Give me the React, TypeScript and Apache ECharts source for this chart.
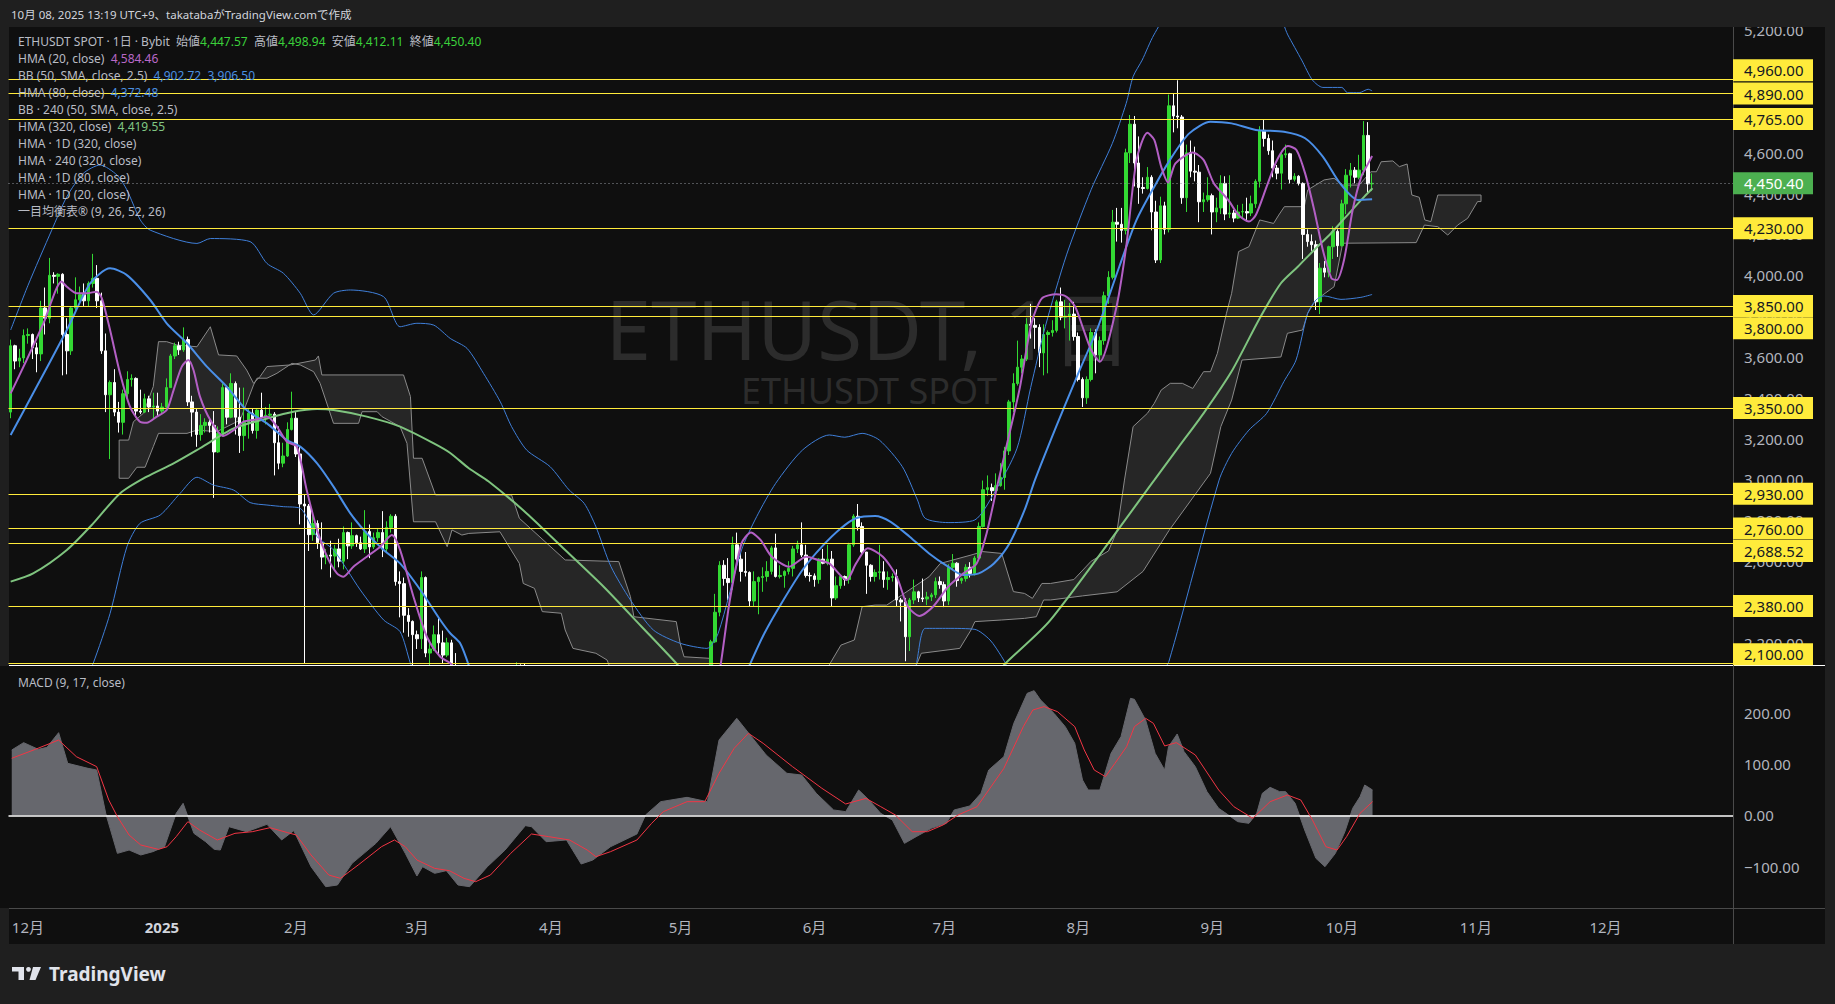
import React, { useEffect, useRef } from "react";
import * as echarts from "echarts";

const FONT = '"Noto Sans", "Noto Sans CJK JP", sans-serif';
const START_UTC = Date.UTC(2024, 10, 27);
const DAY_COUNT = 399;

// category dates (day 0 = 2024-11-27)
const categories: string[] = Array.from({ length: DAY_COUNT }, (_, i) => {
  const d = new Date(START_UTC + i * 86400000);
  return `${d.getUTCFullYear()}-${d.getUTCMonth() + 1}-${d.getUTCDate()}`;
});

// daily candles [open, close, low, high]
const candles: number[][] = [
  [3330,3655,3300,3685],[3655,3580,3540,3660],[3580,3595,3550,3640],[3595,3705,3570,3735],[3705,3710,3665,3740],
  [3710,3645,3590,3715],[3645,3615,3525,3670],[3615,3840,3580,3875],[3840,3790,3710,3940],[3790,4000,3765,4085],
  [4000,3995,3960,4015],[3995,4005,3910,4010],[4005,3710,3510,4010],[3710,3630,3515,3790],[3630,3840,3610,3850],
  [3840,3880,3830,3990],[3880,3905,3860,3945],[3905,3875,3850,3960],[3875,3960,3845,3970],[3960,3985,3940,4105],
  [3985,3875,3840,4050],[3875,3630,3615,3915],[3630,3415,3330,3715],[3415,3475,3100,3485],[3475,3330,3310,3540],
  [3330,3280,3230,3380],[3280,3420,3220,3440],[3420,3490,3400,3530],[3490,3495,3455,3515],[3495,3335,3305,3500],
  [3335,3330,3320,3440],[3330,3395,3325,3420],[3395,3355,3330,3410],[3355,3360,3300,3425],[3360,3335,3310,3425],
  [3335,3355,3320,3375],[3355,3450,3345,3495],[3450,3605,3450,3615],[3605,3655,3590,3670],[3655,3635,3610,3675],
  [3635,3685,3625,3745],[3685,3380,3360,3700],[3380,3330,3210,3410],[3330,3220,3160,3345],[3220,3265,3190,3320],
  [3265,3280,3230,3300],[3280,3265,3230,3305],[3265,3135,2910,3335],[3135,3225,3130,3260],[3225,3450,3210,3470],
  [3450,3305,3270,3460],[3305,3470,3300,3520],[3470,3305,3220,3480],[3305,3215,3130,3450],[3215,3280,3140,3450],
  [3280,3325,3200,3345],[3325,3240,3225,3345],[3240,3340,3200,3345],[3340,3305,3300,3425],[3305,3315,3270,3355],
  [3315,3320,3300,3370],[3320,3180,3020,3330],[3180,3080,3050,3260],[3080,3115,3060,3180],[3115,3245,3110,3280],
  [3245,3300,3240,3430],[3300,3125,3110,3330],[3125,2880,2780,3160],[2880,2870,2100,2925],[2870,2730,2650,2880],
  [2730,2785,2700,2830],[2785,2690,2660,2800],[2690,2620,2560,2790],[2620,2630,2585,2660],[2630,2625,2520,2700],
  [2625,2660,2560,2680],[2660,2600,2570,2710],[2600,2740,2560,2770],[2740,2675,2610,2745],[2675,2725,2660,2790],
  [2725,2690,2670,2730],[2690,2660,2655,2720],[2660,2745,2640,2850],[2745,2670,2615,2780],[2670,2715,2660,2740],
  [2715,2740,2695,2760],[2740,2660,2620,2845],[2660,2765,2640,2795],[2765,2820,2740,2830],[2820,2500,2480,2830],
  [2500,2490,2325,2550],[2490,2335,2250,2520],[2335,2305,2230,2370],[2305,2240,2075,2310],[2240,2220,2170,2260],
  [2220,2520,2170,2550],[2520,2150,2130,2525],[2150,2170,1990,2215],[2170,2240,2160,2285],[2240,2200,2140,2320],
  [2200,2140,2100,2260],[2140,2200,2130,2225],[2200,2020,2000,2215],[2020,1865,1815,2150],[1865,1920,1755,1960],
  [1920,1910,1830,1955],[1910,1865,1825,1920],[1865,1910,1860,1935],[1910,1935,1905,1945],[1935,1885,1860,1950],
  [1885,1925,1880,1955],[1925,1930,1885,1935],[1930,2055,1925,2065],[2055,1985,1970,2070],[1985,1965,1935,2000],
  [1965,1980,1960,1995],[1980,2005,1970,2010],[2005,2080,2000,2105],[2080,2070,2030,2095],[2070,2010,1995,2100],
  [2010,2005,1985,2035],[2005,1895,1880,2015],[1895,1830,1815,1905],[1830,1805,1770,1840],[1805,1820,1790,1850],
  [1820,1905,1815,1920],[1905,1800,1780,1950],[1800,1815,1760,1840],[1815,1812,1760,1830],[1812,1805,1780,1825],
  [1805,1580,1540,1815],[1580,1555,1410,1640],[1555,1475,1450,1620],[1475,1670,1385,1690],[1670,1525,1475,1675],
  [1525,1565,1500,1570],[1565,1645,1540,1655],[1645,1595,1570,1690],[1595,1625,1590,1690],[1625,1590,1585,1655],
  [1590,1575,1560,1620],[1575,1585,1565,1605],[1585,1590,1575,1600],[1590,1615,1580,1620],[1615,1590,1575,1640],
  [1590,1580,1575,1660],[1580,1755,1575,1775],[1755,1795,1745,1830],[1795,1770,1725,1810],[1770,1785,1750,1820],
  [1785,1820,1780,1830],[1820,1795,1790,1860],[1795,1800,1750,1830],[1800,1805,1790,1830],[1805,1795,1750,1830],
  [1795,1840,1790,1875],[1840,1845,1830,1870],[1845,1835,1825,1855],[1835,1810,1800,1850],[1810,1815,1780,1835],
  [1815,1812,1755,1830],[1812,1810,1795,1860],[1810,2205,1805,2215],[2205,2350,2200,2440],[2350,2580,2330,2600],
  [2580,2515,2480,2605],[2515,2495,2410,2615],[2495,2680,2460,2720],[2680,2610,2570,2740],[2610,2550,2500,2640],
  [2550,2545,2525,2645],[2545,2405,2380,2550],[2405,2500,2380,2550],[2500,2520,2340,2525],[2520,2525,2450,2570],
  [2525,2550,2500,2600],[2550,2665,2535,2675],[2665,2525,2520,2735],[2525,2530,2515,2580],[2530,2550,2470,2555],
  [2550,2565,2535,2600],[2565,2660,2525,2675],[2660,2680,2640,2700],[2680,2630,2620,2790],[2630,2530,2520,2680],
  [2530,2528,2500,2545],[2528,2510,2475,2540],[2510,2610,2490,2615],[2610,2590,2585,2660],[2590,2610,2580,2680],
  [2610,2420,2380,2650],[2420,2480,2410,2525],[2480,2525,2465,2530],[2525,2510,2480,2530],[2510,2680,2490,2690],
  [2680,2820,2670,2830],[2820,2770,2750,2880],[2770,2645,2630,2790],[2645,2580,2440,2645],[2580,2525,2500,2585],
  [2525,2545,2500,2560],[2545,2548,2510,2680],[2548,2510,2470,2600],[2510,2520,2460,2550],[2520,2525,2500,2540],
  [2525,2410,2380,2560],[2410,2400,2305,2420],[2400,2230,2110,2420],[2230,2410,2160,2420],[2410,2450,2390,2510],
  [2450,2420,2400,2455],[2420,2415,2400,2515],[2415,2425,2385,2450],[2425,2435,2405,2445],[2435,2500,2420,2520],
  [2500,2485,2465,2525],[2485,2405,2375,2500],[2405,2570,2385,2585],[2570,2590,2555,2635],[2590,2505,2475,2595],
  [2505,2515,2490,2520],[2515,2570,2500,2585],[2570,2540,2520,2595],[2540,2615,2530,2625],[2615,2770,2605,2790],
  [2770,2950,2765,2995],[2950,2960,2920,3020],[2960,2945,2895,2980],[2945,2970,2930,3030],[2970,3010,2965,3080],
  [3010,3140,2950,3160],[3140,3380,3120,3390],[3380,3470,3330,3520],[3470,3550,3460,3680],[3550,3590,3520,3610],
  [3590,3760,3580,3790],[3760,3755,3690,3860],[3755,3745,3640,3790],[3745,3620,3550,3760],[3620,3710,3510,3760],
  [3710,3720,3520,3730],[3720,3730,3700,3780],[3730,3870,3720,3880],[3870,3795,3780,3940],[3795,3800,3740,3880],
  [3800,3810,3680,3865],[3810,3700,3680,3870],[3700,3490,3480,3720],[3490,3400,3355,3500],[3400,3490,3370,3505],
  [3490,3720,3480,3740],[3720,3610,3520,3735],[3610,3680,3575,3700],[3680,3900,3660,3920],[3900,3990,3860,4020],
  [3990,4260,3980,4320],[4260,4250,4165,4330],[4250,4220,4160,4330],[4220,4600,4200,4620],[4600,4740,4550,4785],
  [4740,4550,4435,4780],[4550,4430,4350,4680],[4430,4425,4400,4480],[4425,4480,4420,4530],[4480,4310,4220,4490],
  [4310,4075,4060,4365],[4075,4340,4060,4385],[4340,4225,4200,4360],[4225,4830,4210,4885],[4830,4780,4700,4890],
  [4780,4775,4720,4955],[4775,4380,4350,4785],[4380,4600,4310,4640],[4600,4510,4480,4660],[4510,4505,4460,4630],
  [4505,4360,4260,4540],[4360,4370,4310,4405],[4370,4390,4360,4480],[4390,4310,4200,4400],[4310,4330,4260,4380],
  [4330,4450,4300,4490],[4450,4300,4270,4485],[4300,4305,4280,4490],[4305,4280,4260,4320],[4280,4310,4275,4345],
  [4310,4312,4280,4350],[4312,4305,4270,4380],[4305,4350,4290,4390],[4350,4460,4330,4470],[4460,4710,4430,4730],
  [4710,4670,4630,4765],[4670,4610,4590,4690],[4610,4525,4480,4660],[4525,4500,4470,4540],[4500,4590,4420,4610],
  [4590,4595,4575,4640],[4595,4470,4450,4600],[4470,4485,4460,4500],[4485,4450,4440,4490],[4450,4200,4080,4455],
  [4200,4165,4140,4225],[4165,4150,4120,4200],[4150,3870,3830,4170],[3870,4035,3810,4060],[4035,4015,3990,4070],
  [4015,4140,3990,4145],[4140,4215,4080,4240],[4215,4145,4090,4225],[4145,4350,4140,4370],[4350,4490,4300,4520],
  [4490,4515,4430,4550],[4515,4480,4450,4530],[4480,4515,4470,4590],[4515,4685,4490,4755],[4685,4447.57,4400,4750],
  [4447.57,4450.40,4412.11,4498.94],
];

// indicator lines: [day index, value]
const hma20: any[] = [[0,3422],[3.7,3585],[7.6,3765],[11.8,3969],[13,3944],[15.3,3912],[17.6,3912],[19.9,3920],[21.1,3887],[23,3732],[25.3,3520],[27.6,3357],[29.9,3283],[31.5,3278],[33.8,3308],[36.1,3340],[37.7,3438],[39.6,3553],[41.1,3585],[42.3,3536],[43.8,3406],[46.2,3291],[49.2,3213],[51.6,3242],[53.9,3283],[57,3295],[59.3,3308],[61.6,3259],[63.9,3185],[66.2,3161],[68.5,2948],[70.9,2753],[73.2,2622],[75.5,2540],[77,2524],[79.3,2573],[82.4,2622],[85.5,2671],[88.2,2728],[90.1,2655],[93.2,2426],[96.3,2230],[99.4,2132],[101.7,2100],[103,2070],[104,"-"],[163.5,2040],[164.2,2083],[166.4,2410],[169.1,2687],[171.3,2740],[173.5,2704],[176.1,2622],[180.1,2573],[184.1,2622],[186.8,2606],[189.4,2589],[193.4,2508],[195.6,2589],[198.3,2663],[201.8,2622],[205,2524],[207.6,2377],[210.3,2332],[213.4,2377],[216.9,2475],[220.4,2540],[223.5,2589],[225.8,2736],[228.4,2981],[231.1,3226],[233.5,3450],[236.2,3765],[238.6,3887],[241.9,3907],[244.3,3895],[246.3,3846],[248,3748],[250,3634],[252,3577],[255.7,3830],[258.1,4140],[260.5,4565],[263,4698],[264.6,4663],[266.2,4532],[267.8,4454],[269.5,4548],[273.5,4601],[276,4565],[278.4,4450],[281.7,4369],[284.1,4295],[286.5,4263],[288.1,4295],[290.6,4434],[293,4565],[295.5,4633],[297.5,4614],[299.5,4499],[301.6,4320],[303.6,4124],[305.6,3985],[306.8,3977],[308.5,4075],[310.5,4320],[312.5,4483],[314.1,4548],[315,4584]];
const hma80: any[] = [[0,3218],[5.2,3422],[13,3732],[18.4,3961],[23,4034],[26.9,4001],[32.3,3879],[36.1,3765],[40.8,3667],[45.4,3553],[50,3455],[54.6,3340],[59.3,3275],[63.9,3193],[67,3161],[70.9,3079],[74.7,2965],[78.6,2834],[82.4,2736],[86.3,2655],[90.1,2589],[94.8,2459],[99.4,2312],[101.7,2247],[104,2198],[106.1,2083],[107,"-"],[170.8,2083],[174.4,2247],[178.8,2410],[183.2,2557],[187.7,2671],[192.1,2761],[195.6,2810],[200,2821],[203.6,2793],[208,2720],[212.5,2638],[216.9,2573],[220.4,2532],[224,2540],[227.5,2589],[231.1,2687],[234.6,2851],[237,2998],[241.9,3259],[246.7,3504],[251.6,3748],[256.5,4042],[260.5,4271],[264.6,4434],[268.7,4581],[272.7,4695],[277.6,4752],[282.5,4744],[288.1,4712],[294.6,4703],[299.5,4671],[303.6,4581],[307.6,4450],[311.7,4369],[315,4372]];
const hma320: any[] = [[0,2500],[5.2,2540],[13,2655],[19.1,2785],[25.3,2932],[31.5,3014],[37.7,3079],[43.8,3153],[51.6,3250],[59.3,3299],[65.4,3332],[70.9,3345],[74.7,3340],[82.4,3308],[90.1,3259],[97.9,3177],[101.7,3130],[106,3055],[110.6,2990],[119.4,2834],[128.3,2655],[137.2,2475],[146,2279],[154,2100],[155,2070],[156,"-"],[229,2070],[230.2,2100],[240.6,2312],[264.6,2997],[270.3,3161],[276,3324],[282.5,3530],[289,3790],[293.9,3961],[297.8,4042],[301.6,4124],[305.5,4206],[309.3,4295],[313.2,4385],[315.1,4426]];
const bbUpper: any[] = [[0,3732],[4,3950],[9.5,4221],[13,4385],[16.8,4499],[20.7,4540],[24.6,4491],[26.9,4418],[30,4271],[32.3,4221],[43.1,4156],[46.2,4180],[55.4,4165],[59.3,4058],[63.1,4010],[67,3912],[70.1,3806],[74.7,3912],[78.6,3928],[86.3,3895],[90.1,3748],[94,3765],[97.9,3756],[101.7,3691],[105.6,3642],[109.4,3520],[113.3,3380],[115.9,3259],[119.4,3144],[124.8,3063],[129.2,2949],[132.7,2883],[135.4,2769],[138.9,2573],[143.4,2410],[148.7,2263],[154.9,2198],[161.1,2173],[163.7,2247],[169.1,2655],[172.6,2818],[177,2981],[183.2,3144],[189.4,3218],[193,3207],[197,3226],[201,3193],[206.3,3063],[209.8,2900],[211.6,2810],[216.9,2789],[223.1,2802],[227.5,2932],[232.8,3150],[236,3450],[239.4,3750],[244.3,4100],[250,4420],[254.9,4646],[258.1,4842],[259.7,4973],[261.8,5054],[264.5,5177],[268,5280],[280,5330],[293,5280],[295.5,5177],[298.7,5054],[301.2,4956],[303.6,4920],[308,4920],[309.3,4894],[312,4894],[314.1,4911],[315,4903]];
const bbLower: any[] = [[18,2060],[19.1,2100],[23,2344],[26.9,2671],[29.9,2785],[34.6,2826],[39.2,2932],[43.1,3011],[46.9,2973],[51.6,2948],[55.4,2887],[59.3,2875],[63.1,2867],[67,2859],[70.9,2720],[74.7,2655],[80.9,2459],[86.3,2312],[90.1,2255],[92.5,2100],[93.5,2060],[94,"-"],[208.5,2060],[209.4,2083],[211.6,2271],[216.9,2271],[223.1,2266],[226.6,2214],[229.3,2132],[230.6,2083],[231,2060],[232,"-"],[266.5,2060],[268,2110],[279.6,2997],[282.5,3128],[286.5,3242],[290.6,3324],[294.6,3480],[297.4,3585],[300.1,3814],[302,3879],[303.9,3899],[307.8,3882],[312.4,3892],[315,3906]];

// ichimoku cloud envelopes
const cloudUpper1: number[][] = [[25.1,3193],[27.3,3193],[28.4,3283],[30.7,3324],[33,3455],[34.2,3675],[36.1,3675],[38.4,3659],[43.1,3650],[46.2,3748],[48.1,3610],[52.3,3605],[54.6,3536],[56.2,3471],[57.7,3504],[59.3,3553],[64.7,3561],[70.5,3585],[71.2,3605],[72,3512],[90.9,3512],[92.5,3406],[93.2,3104],[95.2,3104],[98.3,2924],[115.9,2924],[117.7,2810],[128.3,2606],[140.7,2598],[143.4,2426],[144.2,2328],[154,2304],[154.9,2198],[155.8,2132],[161.9,2124],[163,2060]];
const cloudLower1: number[][] = [[25.1,3006],[27.3,3006],[29.2,3060],[31.1,3060],[33,3161],[34.2,3226],[40.8,3226],[43.1,3242],[47.7,3234],[53.1,3291],[56.2,3463],[57,3496],[59.3,3496],[61.6,3520],[65.1,3569],[67,3561],[70.1,3528],[71.6,3471],[74.7,3275],[80.5,3275],[81.3,3332],[84.8,3332],[85.9,3308],[90.1,3259],[91.7,3177],[93.2,2793],[98.3,2793],[101,2671],[102.1,2753],[104.4,2728],[106,2736],[113.2,2744],[117.7,2589],[118.6,2491],[121.2,2467],[123,2353],[127.4,2345],[128.3,2263],[130.1,2173],[135.4,2149],[138,2116],[139,2060],[163,2060]];
const cloudUpper2: number[][] = [[188.5,2060],[192.1,2189],[195.2,2214],[197,2377],[200,2385],[202.7,2385],[212.5,2524],[215.1,2589],[222.2,2630],[224.9,2647],[229.3,2638],[232,2451],[234.6,2442],[236.4,2418],[238.6,2491],[240.6,2491],[246,2510],[250,2600],[254,2650],[256,2750],[257.7,2997],[259.7,3259],[263,3324],[264.6,3373],[266.2,3438],[268.3,3471],[271.1,3471],[273.5,3446],[276,3528],[277.6,3528],[279.2,3618],[281.3,3814],[282.5,3912],[284.1,4116],[286.5,4140],[289,4271],[292.2,4254],[293.4,4295],[294.7,4336],[299.3,4336],[300.1,4418],[303.9,4467],[306.2,4475],[308.2,4442],[312,4442],[314.7,4507],[316,4507],[317.1,4556],[319.8,4560],[321.3,4532],[323.1,4545],[324.2,4393],[325.9,4382],[327.2,4271],[328.6,4263],[330.2,4393],[340.2,4393]];
const cloudLower2: number[][] = [[188.5,2060],[209,2060],[209.4,2083],[210.7,2149],[219.6,2173],[222.2,2263],[223.1,2304],[229.3,2312],[234.6,2320],[237.3,2328],[239,2410],[240.6,2410],[248,2430],[256,2450],[262,2550],[268,2750],[277.6,3030],[280,3259],[282.5,3389],[284.9,3585],[293.9,3600],[295.4,3716],[298.9,3732],[300.1,3814],[302,3879],[306.2,3944],[308.2,4157],[325.2,4160],[327.1,4246],[330.2,4238],[332.5,4197],[334.8,4246],[337.1,4279],[339.4,4361],[340.2,4361]];

// MACD (9,17) line and signal
const macdLine: number[][] = [[0.25,127.5],[3,141.9],[6.4,128.8],[8.4,132.7],[11.1,161.4],[13.2,101.5],[17.9,91.7],[19.9,88.5],[22,3.8],[24.7,-74.3],[27.4,-67.8],[30.1,-77.5],[32.9,-71],[35.6,-61.3],[38.3,3.8],[39.9,23.4],[42.4,-35.2],[45.1,-51.5],[47.1,-66.5],[48.5,-67.8],[50.5,-22.2],[54.6,-32],[59.3,-17.6],[62.7,-48.2],[65.5,-30],[69.5,-100.3],[72.9,-139.4],[75.6,-136.1],[79,-93.8],[84.5,-54.8],[87.9,-22.2],[91.3,-74.3],[94,-118.5],[95.3,-100.3],[98.1,-113.3],[100.8,-108.1],[103.5,-136.1],[106.2,-139.4],[110.3,-100.3],[114.4,-67.8],[119.1,-20.2],[120.5,-22.2],[123.9,-51.5],[128.6,-48.2],[132,-95.1],[134.7,-87.3],[138.8,-61.3],[144.9,-36.5],[146.9,0.6],[150.4,26.6],[156.5,35.1],[161.2,26.6],[163.9,147],[168,189.4],[171.4,153.6],[174.8,117.8],[179.6,82],[183,78.7],[186.4,42.9],[190.4,10.4],[193.2,7.1],[196.2,49.4],[198.6,29.9],[201.3,3.8],[204,-9.2],[206.8,-54.8],[209.5,-41.7],[213,-25.5],[216.5,-15.7],[218.3,10.4],[221.9,18.2],[224.5,42.9],[226.3,88.5],[229.8,114.5],[232.1,179.6],[235.2,238.2],[236.8,243.4],[238.3,225.2],[241.4,199.1],[244,173.1],[246.2,140.6],[248,68.9],[249.3,49.4],[252,49.4],[254.6,121],[256.9,153.6],[259.1,228.4],[260,226.5],[262.6,186.1],[264.8,121],[267,88.5],[267.9,134],[269.9,158.8],[271.5,124.3],[274.1,95],[276.8,46.2],[279.5,13.6],[281.2,3.8],[283.9,-12.4],[286.5,-15.7],[288.3,3.8],[289.6,42.9],[291.4,54.6],[293.6,46.2],[295,46.2],[297.2,23.4],[299.4,-28.7],[302,-84],[304.1,-100.3],[306.5,-74.3],[308.7,-32],[310.5,13.6],[312.2,36.3],[313.3,59.2],[315.1,49.4]];
const macdSignal: number[][] = [[0.25,111.3],[5.7,128.8],[11.1,147],[15.2,114.5],[19.9,95],[22.7,29.9],[24.7,-2.7],[27.4,-38.5],[30.1,-58],[34.2,-66.5],[36.2,-61.3],[38.3,-41.7],[41,-12.4],[43.7,-28.7],[47.8,-48.2],[51.9,-35.2],[55.9,-32],[60,-24.2],[64.1,-33.9],[66.1,-38.5],[69.5,-77.5],[73.6,-116.6],[76.3,-123.1],[80.4,-97.1],[85.8,-61.3],[88.8,-48.2],[91.3,-61.3],[94,-87.3],[98.1,-103.6],[101.5,-108.1],[104.9,-123.1],[107.6,-129.6],[111,-116.6],[115.7,-74.3],[120.5,-36.5],[124.5,-41.7],[129.3,-48.2],[133.4,-67.8],[135.4,-80.8],[138.8,-71],[144.9,-48.2],[148.3,-15.7],[151,7.1],[156.5,26.6],[160.6,26.6],[163.9,82],[167.4,130.8],[170.7,160.1],[174.1,140.6],[180.9,95],[187.7,52.7],[193.2,22.1],[197.9,33.1],[201.3,16.9],[204.7,0.6],[208.6,-32],[212.1,-32],[215.7,-19],[219.2,0.6],[223.6,16.9],[229.8,91.7],[234.3,173.1],[236.5,205.6],[239.1,212.2],[242.2,202.4],[246.2,173.1],[248.4,127.5],[250.7,88.5],[253.3,75.5],[255.5,101.5],[258.2,134],[260,173.1],[262.6,189.4],[264.4,179.6],[267,135.4],[269.7,141.9],[274.1,117.8],[279.5,49.4],[283,16.9],[287.4,-5.9],[291.4,26.6],[295.4,39.6],[298.5,29.9],[301.2,-9.2],[304.3,-61.3],[306.9,-67.8],[309.1,-41.7],[312.2,3.8],[315.1,26.6]];

// horizontal levels
const levelValues = [4960, 4890, 4765, 4230, 3850, 3800, 3350, 2930, 2760, 2688.52, 2380, 2100];
const levelBoxShift = [-9, 0, 0, 0, 0, 12, 0, 0, 0, 8, 0, -9];
const lastPrice = 4450.40;

const legendLines: string[] = [
  "{l|ETHUSDT SPOT · 1日 · Bybit  始値}{g|4,447.57}{l|  高値}{g|4,498.94}{l|  安値}{g|4,412.11}{l|  終値}{g|4,450.40}",
  "{l|HMA (20, close)  }{p|4,584.46}",
  "{l|BB (50, SMA, close, 2.5)  }{b|4,902.72  3,906.50}",
  "{l|HMA (80, close)  }{b|4,372.48}",
  "{l|BB · 240 (50, SMA, close, 2.5)}",
  "{l|HMA (320, close)  }{n|4,419.55}",
  "{l|HMA · 1D (320, close)}",
  "{l|HMA · 240 (320, close)}",
  "{l|HMA · 1D (80, close)}",
  "{l|HMA · 1D (20, close)}",
  "{l|一目均衡表® (9, 26, 52, 26)}",
];

const fmtPrice = (v: number) =>
  v.toLocaleString("en-US", { minimumFractionDigits: 2, maximumFractionDigits: 2 });

const richBase = (color: string, size = 12) => ({ fill: color, color, fontSize: size, fontFamily: FONT });

function staticGraphics(): any[] {
  const g: any[] = [];
  g.push({ type: "rect", z: -10, silent: true, shape: { x: 9, y: 27, width: 1816, height: 917 }, style: { fill: "#0f0f0f" } });
  g.push({ type: "text", z: -5, silent: true, x: 869, y: 328, style: { text: "ETHUSDT, 1日", fill: "#2c2c2c", fontSize: 82, fontFamily: FONT, align: "center", verticalAlign: "middle" } });
  g.push({ type: "text", z: -5, silent: true, x: 869, y: 390, style: { text: "ETHUSDT SPOT", fill: "#2c2c2c", fontSize: 36, fontFamily: FONT, align: "center", verticalAlign: "middle" } });
  // cover for the part of the candles that falls below the price pane (the MACD pane sits above it)
  g.push({ type: "rect", z: 3, silent: true, shape: { x: 0, y: 666, width: 1733, height: 242 }, style: { fill: "#0f0f0f" } });
  // header band (covers the top of the pane area)
  g.push({ type: "rect", z: 200, silent: true, shape: { x: 0, y: 0, width: 1835, height: 27 }, style: { fill: "#1f1f1f" } });
  g.push({ type: "text", z: 201, silent: true, x: 11, y: 14, style: { text: "10月 08, 2025 13:19 UTC+9、takatabaがTradingView.comで作成", fill: "#d1d4dc", fontSize: 11.5, fontFamily: FONT, verticalAlign: "middle" } });
  legendLines.forEach((t, i) => {
    g.push({
      type: "text", z: 50, silent: true, x: 18, y: 41.7 + 17 * i,
      style: {
        text: t, fontSize: 12, fontFamily: FONT, verticalAlign: "middle", fill: "#b9bcc4",
        rich: {
          l: richBase("#b9bcc4"), g: richBase("#3bd13b"), p: richBase("#b968c7"),
          b: richBase("#4a90e2"), n: richBase("#81c784"),
        },
      },
    });
  });
  g.push({ type: "text", z: 50, silent: true, x: 18, y: 682, style: { text: "MACD (9, 17, close)", fill: "#b9bcc4", fontSize: 12, fontFamily: FONT, verticalAlign: "middle" } });
  // pane separators and borders
  g.push({ type: "line", z: 60, silent: true, shape: { x1: 9, y1: 665.5, x2: 1825, y2: 665.5 }, style: { stroke: "#ffffff", lineWidth: 1 } });
  g.push({ type: "line", z: 60, silent: true, shape: { x1: 9, y1: 908.5, x2: 1825, y2: 908.5 }, style: { stroke: "#4a4a4a", lineWidth: 1 } });
  g.push({ type: "line", z: 60, silent: true, shape: { x1: 1733.5, y1: 27, x2: 1733.5, y2: 944 }, style: { stroke: "#4a4a4a", lineWidth: 1 } });
  // TradingView logo
  g.push({ type: "rect", z: 60, silent: true, shape: { x: 12, y: 967, width: 12, height: 4.5 }, style: { fill: "#e0e3eb" } });
  g.push({ type: "rect", z: 60, silent: true, shape: { x: 18.5, y: 967, width: 5.5, height: 13 }, style: { fill: "#e0e3eb" } });
  g.push({ type: "circle", z: 60, silent: true, shape: { cx: 28.5, cy: 969.3, r: 2.4 }, style: { fill: "#e0e3eb" } });
  g.push({ type: "polygon", z: 60, silent: true, shape: { points: [[33, 967], [41, 967], [35.5, 980], [29.5, 980]] }, style: { fill: "#e0e3eb" } });
  g.push({ type: "text", z: 60, silent: true, x: 49, y: 974, style: { text: "TradingView", fill: "#e0e3eb", fontSize: 19, fontWeight: "bold", fontFamily: FONT, verticalAlign: "middle" } });
  return g;
}

export default function App() {
  const ref = useRef<HTMLDivElement>(null);
  useEffect(() => {
    const el = ref.current;
    if (!el) return;
    const chart = echarts.init(el, null, { renderer: "svg" });
    const base = staticGraphics();
    const cloudSegments = [
      { upper: cloudUpper1, lower: cloudLower1 },
      { upper: cloudUpper2, lower: cloudLower2 },
    ];
    const isMonthStart = (v: string) => v.split("-")[2] === "1";
    const lineSeries = (name: string, data: any[], color: string, width: number, z: number) => ({
      name, type: "line", xAxisIndex: 1, yAxisIndex: 0, data, showSymbol: false, symbol: "none",
      smooth: 0.25, connectNulls: false, lineStyle: { color, width }, z, silent: true,
    });
    const option: any = {
      animation: false,
      backgroundColor: "#1f1f1f",
      textStyle: { fontFamily: FONT },
      grid: [
        { left: 8.5, right: 102, top: 27, height: 638 },
        { left: 8.5, right: 102, top: 665, height: 243 },
      ],
      xAxis: [
        { type: "category", gridIndex: 0, data: categories, boundaryGap: true, show: false },
        { type: "value", gridIndex: 0, min: -0.5, max: DAY_COUNT - 0.5, show: false },
        {
          type: "category", gridIndex: 1, data: categories, boundaryGap: true,
          axisLine: { show: false }, axisTick: { show: false }, splitLine: { show: false },
          axisLabel: {
            interval: (_i: number, v: string) => isMonthStart(v),
            formatter: (v: string) => {
              const [y, m] = v.split("-");
              return m === "1" ? `{b|${y}}` : `${m}月`;
            },
            color: "#b2b5be", fontSize: 15, margin: 11, fontFamily: FONT,
            rich: { b: { fontWeight: "bold", color: "#d1d4dc", fontSize: 15, fontFamily: FONT } },
          },
        },
        { type: "value", gridIndex: 1, min: -0.5, max: DAY_COUNT - 0.5, show: false },
      ],
      yAxis: [
        {
          type: "value", gridIndex: 0, position: "right", min: 2091.6, max: 5215.9, splitNumber: 16,
          axisLine: { show: false }, axisTick: { show: false }, splitLine: { show: false },
          axisLabel: { color: "#b2b5be", fontSize: 15, margin: 11, fontFamily: FONT, showMinLabel: false, showMaxLabel: false, formatter: (v: number) => fmtPrice(v) },
        },
        {
          type: "value", gridIndex: 1, position: "right", min: -181, max: 293.5, splitNumber: 5,
          axisLine: { show: false }, axisTick: { show: false }, splitLine: { show: false },
          axisLabel: {
            color: "#b2b5be", fontSize: 15, margin: 11, fontFamily: FONT, showMinLabel: false, showMaxLabel: false,
            formatter: (v: number) => (v < 0 ? "\u2212" + Math.abs(v).toFixed(2) : v.toFixed(2)),
          },
        },
      ],
      graphic: { elements: base },
      series: [
        {
          type: "custom", name: "cloud", xAxisIndex: 1, yAxisIndex: 0, z: 1, silent: true,
          data: cloudSegments.map((_, i) => [i, 0]),
          renderItem: (params: any, api: any) => {
            const seg = cloudSegments[params.dataIndex];
            const pts = seg.upper.map((p) => api.coord(p)).concat(seg.lower.slice().reverse().map((p) => api.coord(p)));
            const cs = params.coordSys;
            return {
              type: "polygon",
              shape: { points: pts },
              style: { fill: "#262626", stroke: "#8a8a8a", lineWidth: 1 },
              clipPath: { type: "rect", shape: { x: cs.x, y: cs.y, width: cs.width, height: cs.height } },
            };
          },
        },
        {
          type: "candlestick", name: "ETHUSDT", xAxisIndex: 0, yAxisIndex: 0, data: candles, barWidth: 3, z: 2,
          clip: true, silent: true,
          itemStyle: { color: "#33d933", color0: "#ffffff", borderColor: "#33d933", borderColor0: "#ffffff", borderWidth: 1 },
          markLine: {
            silent: true, symbol: ["none", "none"], animation: false, label: { show: false }, z: 6,
            data: [
              ...levelValues.map((v) => ({ yAxis: v, lineStyle: { color: "#ffeb3b", width: 1, type: "solid" } })),
              { yAxis: lastPrice, lineStyle: { color: "#9598a1", width: 1, type: [1, 3] } },
            ],
          },
        },
        lineSeries("BB upper", bbUpper, "#3f7fd9", 1, 4),
        lineSeries("BB lower", bbLower, "#3f7fd9", 1, 4),
        lineSeries("HMA 320", hma320, "#7fc47f", 2, 5),
        lineSeries("HMA 80", hma80, "#4a8fe8", 2, 5),
        lineSeries("HMA 20", hma20, "#b35fc4", 2, 6),
        {
          type: "line", name: "MACD", xAxisIndex: 3, yAxisIndex: 1, data: macdLine, showSymbol: false, symbol: "none",
          lineStyle: { color: "#66676d", width: 1 }, areaStyle: { color: "#66676d", opacity: 1, origin: 0 }, z: 4, silent: true,
          markLine: { silent: true, symbol: ["none", "none"], label: { show: false }, data: [{ yAxis: 0, lineStyle: { color: "#ffffff", width: 1.5, type: "solid" } }] },
        },
        {
          type: "line", name: "Signal", xAxisIndex: 3, yAxisIndex: 1, data: macdSignal, showSymbol: false, symbol: "none",
          lineStyle: { color: "#f23645", width: 1 }, z: 5, silent: true,
        },
      ],
    };
    chart.setOption(option);

    const boxes: any[] = [];
    levelValues.forEach((v, i) => {
      const y = (chart.convertToPixel({ yAxisIndex: 0 } as any, v) as number) + levelBoxShift[i];
      boxes.push({ type: "rect", z: 100, silent: true, shape: { x: 1733, y: y - 11, width: 80, height: 22 }, style: { fill: "#ffeb3b" } });
      boxes.push({ type: "text", z: 101, silent: true, x: 1744, y, style: { text: fmtPrice(v), fill: "#131722", fontSize: 15, fontFamily: FONT, verticalAlign: "middle" } });
    });
    const yl = chart.convertToPixel({ yAxisIndex: 0 } as any, lastPrice) as number;
    boxes.push({ type: "rect", z: 100, silent: true, shape: { x: 1733, y: yl - 11, width: 80, height: 22 }, style: { fill: "#4caf50" } });
    boxes.push({ type: "text", z: 101, silent: true, x: 1744, y: yl, style: { text: fmtPrice(lastPrice), fill: "#ffffff", fontSize: 15, fontFamily: FONT, verticalAlign: "middle" } });
    chart.setOption({ graphic: { elements: [...base, ...boxes] } });

    return () => chart.dispose();
  }, []);
  return (
    <div style={{ position: "fixed", left: 0, top: 0, width: 1835, height: 1004, background: "#1f1f1f" }}>
      <div ref={ref} style={{ width: 1835, height: 1004 }} />
    </div>
  );
}
